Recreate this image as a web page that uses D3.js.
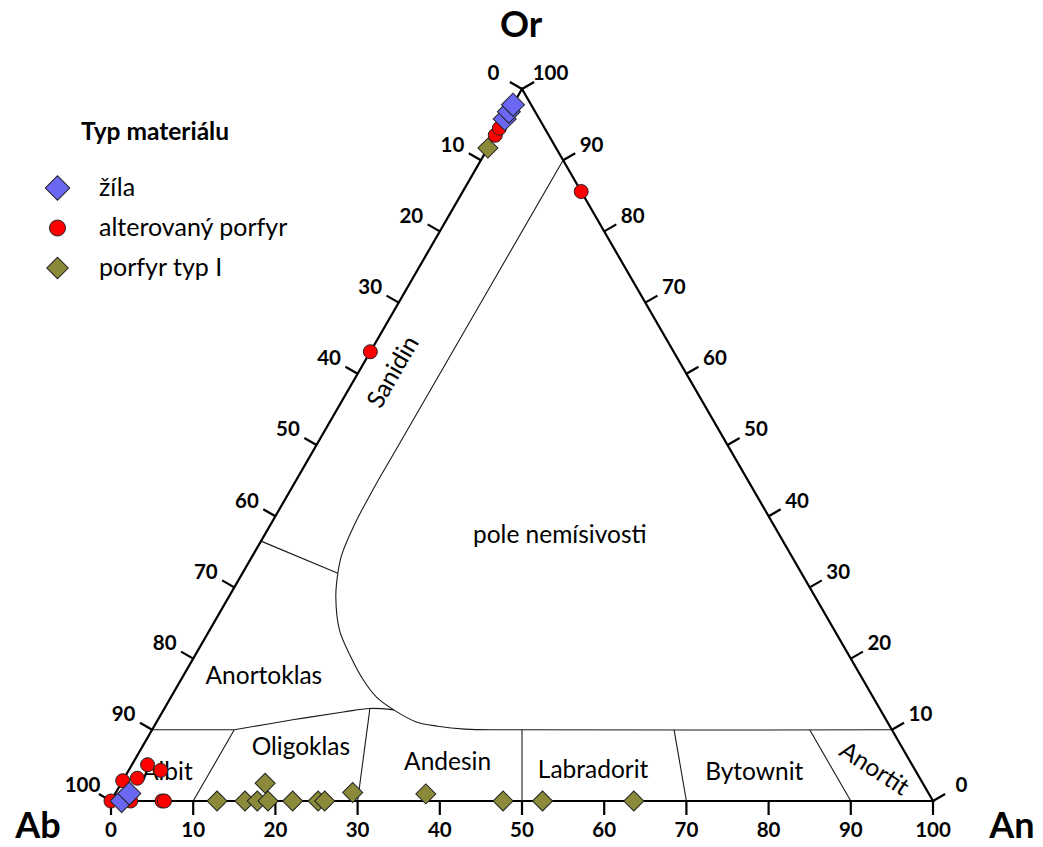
<!DOCTYPE html>
<html>
<head>
<meta charset="utf-8">
<script src="https://cdn.jsdelivr.net/npm/d3@7"></script>
<style>
  body { margin: 0; background: #fff; }
  svg text { font-family: Lato, "Open Sans", "DejaVu Sans", sans-serif; fill: #000; }
</style>
</head>
<body>
<svg id="chart" width="1043" height="847"></svg>
<script>
// Ternary feldspar diagram Ab – An – Or (compositions in %)
const vertexNames = ["Ab", "An", "Or"];
const tickValues = [0, 10, 20, 30, 40, 50, 60, 70, 80, 90, 100];
const seriesNames = ["žíla", "alterovaný porfyr", "porfyr typ I"];
const legendTitle = "Typ materiálu";

// analyses as [An, Or]; Ab is the remainder to 100
const zila = [[1.3, 0], [1.7, 1.05], [0, 95.8], [0, 96.8], [0, 97.8]];
const alterovanyPorfyr = [
  [0, 0], [2.4, 0], [6.2, 0], [6.5, 0], [0, 2.85], [1.6, 3.2], [1.9, 5.1], [3.9, 4.3],
  [0, 63.1], [14.4, 85.6], [0, 93.5], [0, 94.5]
];
const porfyrTypI = [
  [12.9, 0], [16.3, 0], [17.8, 0], [19.1, 0], [17.5, 2.5], [22.1, 0], [25.2, 0], [26.0, 0],
  [28.8, 1.2], [37.8, 1.0], [47.7, 0], [52.5, 0], [63.6, 0], [0, 91.7]
];

// field boundaries as [An, Or]
const solvus = [
  [10, 90], [10, 50], [10, 44], [10.2, 39], [10.8, 34.5], [11.6, 32], [13, 28.7], [15.8, 24],
  [19, 20.3], [22.2, 17], [25, 14.6], [28, 12.8], [31.6, 11.1], [34.5, 10.5], [38, 10.1], [43, 10], [90, 10]
];
const oligoklasTop = [[10, 10], [16.4, 11.4], [22, 12.5], [25, 13], [28, 12.8]];
const straightBoundaries = [
  [[0, 10], [10, 10]],
  [[0, 36.5], [11.6, 32]],
  [[10, 0], [10, 10]],
  [[30, 0], [25, 13]],
  [[50, 0], [45, 10]],
  [[70, 0], [63.5, 10]],
  [[90, 0], [80, 10]]
];
const fieldNames = ["Sanidin", "pole nemísivosti", "Anortoklas", "Oligoklas", "Albit", "Andesin", "Labradorit", "Bytownit", "Anortit"];

// ---------------------------------------------------------------------------
const svg = d3.select("#chart");
const SQ3 = Math.sqrt(3) / 2;
const x = d3.scaleLinear().domain([0, 1]).range([111, 933]);
const y = d3.scaleLinear().domain([0, SQ3]).range([801, 89]);
const project = ([an, or]) => {
  const a = an / 100, o = or / 100;
  return [x(a + o / 2), y(o * SQ3)];
};

const lineGen = d3.line().x(d => project(d)[0]).y(d => project(d)[1]);
const curveGen = d3.line().x(d => project(d)[0]).y(d => project(d)[1]).curve(d3.curveCatmullRom.alpha(0.5));

// field boundaries
const fields = svg.append("g").attr("fill", "none").attr("stroke", "#1a1a1a").attr("stroke-width", 1.1);
fields.append("path").attr("d", curveGen(solvus));
fields.append("path").attr("d", curveGen(oligoklasTop));
straightBoundaries.forEach(seg => fields.append("path").attr("d", lineGen(seg)));

// triangle frame
svg.append("path")
  .attr("d", lineGen([[0, 0], [100, 0], [0, 100]]) + "Z")
  .attr("fill", "none").attr("stroke", "#000").attr("stroke-width", 2.2)
  .attr("stroke-linejoin", "miter");

// ticks and tick labels
const tickLen = 14;
const axes = svg.append("g");
function tick(p, dx, dy, label, lx, ly) {
  axes.append("line").attr("x1", p[0]).attr("y1", p[1])
    .attr("x2", p[0] + dx).attr("y2", p[1] + dy)
    .attr("stroke", "#000").attr("stroke-width", 2.2);
  axes.append("text").attr("x", lx).attr("y", ly)
    .attr("text-anchor", "middle").attr("dy", "0.36em")
    .attr("font-size", 20.5).attr("font-weight", 700)
    .text(label);
}
tickValues.forEach(v => {
  // An along the base
  const pb = project([v, 0]);
  tick(pb, 0, tickLen, v, pb[0], 830);
  // Ab along the left side
  const pl = project([0, 100 - v]);
  tick(pl, -0.866 * tickLen, -0.5 * tickLen, v, pl[0] - 28.5, pl[1] - 16);
  // Or along the right side
  const pr = project([100 - v, v]);
  tick(pr, 0.866 * tickLen, -0.5 * tickLen, v, pr[0] + 28.5, pr[1] - 16);
});

// vertex names
const vertexPos = [[38, 838], [1012, 838], [521, 37]];
vertexNames.forEach((n, i) => {
  svg.append("text").attr("x", vertexPos[i][0]).attr("y", vertexPos[i][1])
    .attr("text-anchor", "middle").attr("font-size", 36).attr("font-weight", 700).text(n);
});

// field names
const fieldPos = [
  { c: [4.1, 60.3], r: -60 }, { c: [35.9, 37.4], r: 0 }, { c: [9.8, 17.6], r: 0 },
  { c: [19.3, 7.6], r: 0 }, { c: [4.8, 4.1], r: 0 }, { c: [38.2, 5.5], r: 0 },
  { c: [56.4, 4.5], r: 0 }, { c: [76.2, 4.1], r: 0 }, { c: [90.6, 4.6], r: 33 }
];
fieldNames.forEach((n, i) => {
  const p = project(fieldPos[i].c);
  svg.append("text")
    .attr("transform", `translate(${p[0]},${p[1]}) rotate(${fieldPos[i].r})`)
    .attr("text-anchor", "middle").attr("dy", "0.35em")
    .attr("font-size", 24.5).text(n);
});

// markers
const styles = [
  { type: d3.symbolSquare, size: 265, fill: "#6a68f2", rot: 45 },
  { type: d3.symbolCircle, size: 154, fill: "#ff0000", rot: 0 },
  { type: d3.symbolSquare, size: 200, fill: "#8a8a3a", rot: 45 }
];
const seriesData = [zila, alterovanyPorfyr, porfyrTypI];
const drawOrder = [2, 1, 0];
drawOrder.forEach(si => {
  const st = styles[si];
  svg.append("g").selectAll("path").data(seriesData[si]).join("path")
    .attr("d", d3.symbol().type(st.type).size(st.size))
    .attr("transform", d => { const p = project(d); return `translate(${p[0]},${p[1]}) rotate(${st.rot})`; })
    .attr("fill", st.fill).attr("stroke", "#222").attr("stroke-width", 1);
});

// legend
const legend = svg.append("g");
legend.append("text").attr("x", 81).attr("y", 140)
  .attr("font-size", 24.5).attr("font-weight", 700).text(legendTitle);
const legendY = [188, 228, 268];
const legendSize = [300, 200, 230];
seriesNames.forEach((n, i) => {
  const st = styles[i];
  legend.append("path")
    .attr("d", d3.symbol().type(st.type).size(legendSize[i]))
    .attr("transform", `translate(57.5,${legendY[i]}) rotate(${st.rot})`)
    .attr("fill", st.fill).attr("stroke", "#222").attr("stroke-width", 1);
  legend.append("text").attr("x", 99).attr("y", legendY[i] + 8)
    .attr("font-size", 25).text(n);
});
</script>
</body>
</html>
